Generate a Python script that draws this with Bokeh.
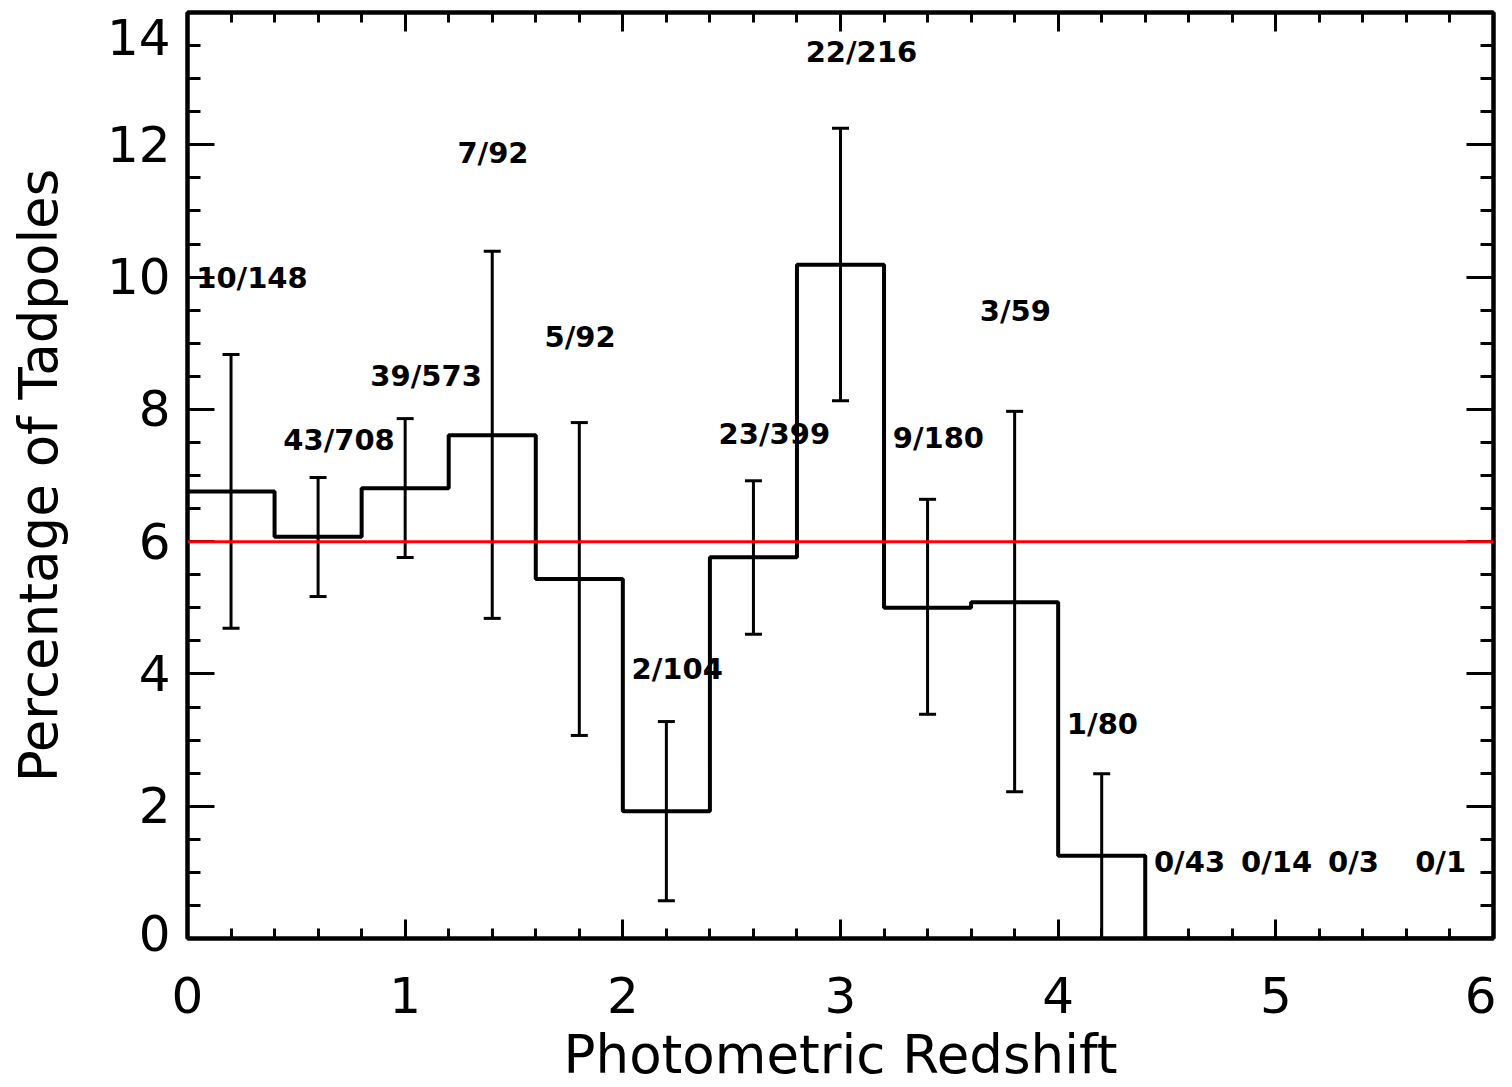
import numpy as np
from bokeh.plotting import figure
from bokeh.models import (ColumnDataSource, Whisker, TeeHead, Span,
                          LinearAxis, SingleIntervalTicker, Range1d)
from bokeh.core.properties import value
from bokeh.embed import file_html
from bokeh.resources import INLINE

# ---- data ----
bin_left = [0.0, 0.4, 0.8, 1.2, 1.6, 2.0, 2.4, 2.8, 3.2, 3.6, 4.0, 4.4, 4.8, 5.2, 5.6]
n_tad = [10, 43, 39, 7, 5, 2, 23, 22, 9, 3, 1, 0, 0, 0, 0]
n_tot = [148, 708, 573, 92, 92, 104, 399, 216, 180, 59, 80, 43, 14, 3, 1]
err_upper = [8.83, 6.97, 7.86, 10.39, 7.80, 3.28, 6.92, 12.25, 6.64, 7.97, 2.49]
err_lower = [4.69, 5.17, 5.76, 4.84, 3.07, 0.57, 4.60, 8.13, 3.39, 2.22, 0.0]
label_y = [9.98, 7.53, 8.51, 11.88, 9.10, 4.07, 7.63, 13.41, 7.56, 9.49, 3.25, 1.15, 1.15, 1.15, 1.15]
mean_pct = 6.0
x_ticks = [0, 1, 2, 3, 4, 5, 6]
y_ticks = [0, 2, 4, 6, 8, 10, 12, 14]
x_title = "Photometric Redshift"
y_title = "Percentage of Tadpoles"

bin_w = 0.4
pct = [100.0 * a / b for a, b in zip(n_tad, n_tot)]
labels = [f"{a}/{b}" for a, b in zip(n_tad, n_tot)]

FONT = "DejaVu Sans"

p = figure(width=1496, height=1087, output_backend="svg", toolbar_location=None,
           x_range=Range1d(x_ticks[0], x_ticks[-1]), y_range=Range1d(y_ticks[0], y_ticks[-1]),
           min_border_left=187, min_border_right=3, min_border_top=12,
           min_border_bottom=149, x_axis_location=None, y_axis_location=None)
p.grid.visible = False
p.outline_line_color = "black"
p.outline_line_width = 4
p.background_fill_color = "white"
p.border_fill_color = "white"


def style_axis(ax, major_in, minor_in, labels_on):
    ax.axis_line_width = 4
    ax.axis_line_color = "black"
    ax.major_tick_in = major_in
    ax.major_tick_out = 0
    ax.minor_tick_in = minor_in
    ax.minor_tick_out = 0
    ax.major_tick_line_width = 3
    ax.minor_tick_line_width = 3
    ax.major_tick_line_color = "black"
    ax.minor_tick_line_color = "black"
    ax.major_label_text_font = FONT
    ax.major_label_text_color = "black"
    if not labels_on:
        ax.major_label_text_font_size = "0px"
        ax.major_label_text_color = None
        ax.major_label_standoff = 0


xb = LinearAxis(ticker=SingleIntervalTicker(interval=1, num_minor_ticks=5))
style_axis(xb, 19, 10, True)
xb.major_label_text_font_size = "50px"
xb.major_label_standoff = 38
xb.axis_label = x_title
xb.axis_label_text_font = FONT
xb.axis_label_text_font_size = "53px"
xb.axis_label_text_font_style = "normal"
xb.axis_label_text_color = "black"
xb.axis_label_standoff = 8
p.add_layout(xb, "below")

xa = LinearAxis(ticker=SingleIntervalTicker(interval=1, num_minor_ticks=5))
style_axis(xa, 19, 10, False)
p.add_layout(xa, "above")

yl = LinearAxis(ticker=SingleIntervalTicker(interval=2, num_minor_ticks=4))
style_axis(yl, 27, 13, True)
yl.major_label_text_font_size = "50px"
yl.major_label_text_line_height = 0.15
yl.major_label_standoff = 17
# end labels pushed inward like the original
yl.major_label_overrides = {y_ticks[0]: f"{y_ticks[0]}\n", y_ticks[-1]: f"\n{y_ticks[-1]}"}
yl.axis_label = y_title
yl.axis_label_text_font = FONT
yl.axis_label_text_font_size = "53px"
yl.axis_label_text_font_style = "normal"
yl.axis_label_text_color = "black"
yl.axis_label_standoff = 35
p.add_layout(yl, "left")

yr = LinearAxis(ticker=SingleIntervalTicker(interval=2, num_minor_ticks=4))
style_axis(yr, 27, 13, False)
p.add_layout(yr, "right")

# mean line
p.add_layout(Span(location=mean_pct, dimension="width", line_color="red", line_width=3))

# histogram step
edges = np.array(bin_left + [bin_left[-1] + bin_w])
step_y = np.array(pct + [pct[-1]])
p.step(x=edges, y=step_y, mode="after", line_color="black", line_width=4)

# error bars
ne = len(err_upper)
centers = [b + bin_w / 2 for b in bin_left[:ne]]
esrc = ColumnDataSource(dict(x=centers, upper=err_upper, lower=err_lower))
p.add_layout(Whisker(source=esrc, base="x", upper="upper", lower="lower",
                     dimension="height", line_color="black", line_width=3,
                     upper_head=TeeHead(size=17, line_width=3, line_color="black"),
                     lower_head=TeeHead(size=17, line_width=3, line_color="black")))

# count labels
lsrc = ColumnDataSource(dict(x=[b + 0.04 for b in bin_left], y=label_y, t=labels))
p.text(x="x", y="y", text="t", source=lsrc, text_font=value(FONT),
       text_font_size="29px", text_font_style="bold", text_align="left",
       text_baseline="alphabetic", text_color="black")

open("out.html", "w").write(file_html(p, INLINE))
